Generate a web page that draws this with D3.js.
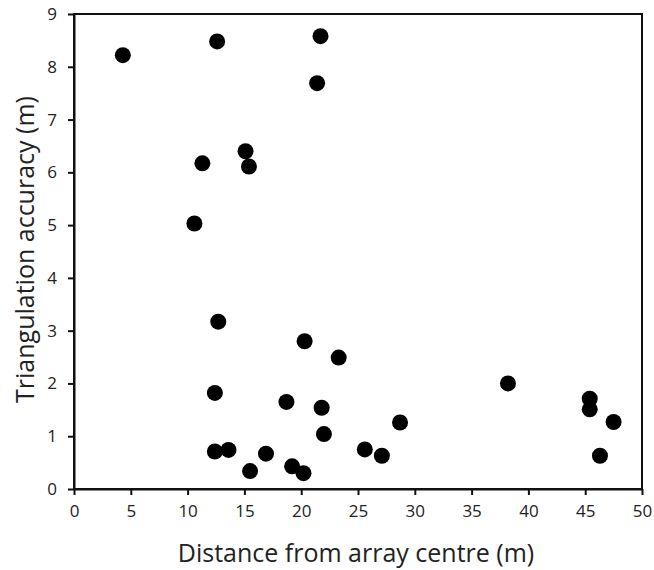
<!DOCTYPE html>
<html>
<head>
<meta charset="utf-8">
<script src="https://cdn.jsdelivr.net/npm/d3@7"></script>
<style>
  body { margin: 0; background: #fff; }
  text { font-family: "Open Sans", "Noto Sans", sans-serif; fill: #222; }
</style>
</head>
<body>
<div id="chart"></div>
<script>
// distance from array centre (m) and triangulation accuracy (m)
const distance = [4.3, 12.6, 21.7, 21.4, 11.3, 15.1, 15.4, 10.6, 12.7, 20.3,
  23.3, 12.4, 18.7, 21.8, 22.0, 12.4, 13.6, 15.5, 16.9, 19.2,
  20.2, 25.6, 27.1, 28.7, 38.2, 45.4, 45.4, 47.5, 46.3];
const accuracy = [8.22, 8.48, 8.58, 7.69, 6.17, 6.40, 6.11, 5.03, 3.17, 2.80,
  2.49, 1.82, 1.65, 1.54, 1.04, 0.71, 0.74, 0.34, 0.67, 0.43,
  0.30, 0.75, 0.63, 1.26, 2.00, 1.71, 1.51, 1.27, 0.63];
const xTicks = [0, 5, 10, 15, 20, 25, 30, 35, 40, 45, 50];
const yTicks = [0, 1, 2, 3, 4, 5, 6, 7, 8, 9];

const width = 654, height = 570;
const margin = {top: 14, right: 12, bottom: 81, left: 74};

const svg = d3.select("#chart").append("svg")
    .attr("width", width)
    .attr("height", height);

const x = d3.scaleLinear().domain([0, 50]).range([margin.left, width - margin.right]);
const y = d3.scaleLinear().domain([0, 9]).range([height - margin.bottom, margin.top]);

// frame (top and right)
svg.append("rect")
    .attr("x", x(0)).attr("y", y(9))
    .attr("width", x(50) - x(0)).attr("height", y(0) - y(9))
    .attr("fill", "none").attr("stroke", "#111").attr("stroke-width", 2);

// axes
const xAxis = svg.append("g")
    .attr("transform", `translate(0,${y(0)})`)
    .call(d3.axisBottom(x).tickValues(xTicks).tickSize(6).tickSizeOuter(0).tickPadding(10));
const yAxis = svg.append("g")
    .attr("transform", `translate(${x(0)},0)`)
    .call(d3.axisLeft(y).tickValues(yTicks).tickSize(6).tickSizeOuter(0).tickPadding(11));

[xAxis, yAxis].forEach(g => {
  g.select(".domain").attr("stroke", "#111").attr("stroke-width", 2);
  g.selectAll(".tick line").attr("stroke", "#111").attr("stroke-width", 2);
  g.selectAll(".tick text").attr("font-size", 17).attr("fill", "#222")
    .attr("font-family", "'Open Sans', 'Noto Sans', sans-serif");
});

// points
svg.append("g").selectAll("circle")
    .data(distance.map((d, i) => [d, accuracy[i]]))
    .enter().append("circle")
    .attr("cx", d => x(d[0]))
    .attr("cy", d => y(d[1]))
    .attr("r", 8)
    .attr("fill", "#000");

// axis titles
svg.append("text")
    .attr("x", (x(0) + x(50)) / 2 - 2)
    .attr("y", 562)
    .attr("text-anchor", "middle")
    .attr("font-size", 25)
    .text("Distance from array centre (m)");

svg.append("text")
    .attr("transform", `translate(34,${(y(0) + y(9)) / 2 - 2}) rotate(-90)`)
    .attr("text-anchor", "middle")
    .attr("font-size", 25)
    .text("Triangulation accuracy (m)");
</script>
</body>
</html>
